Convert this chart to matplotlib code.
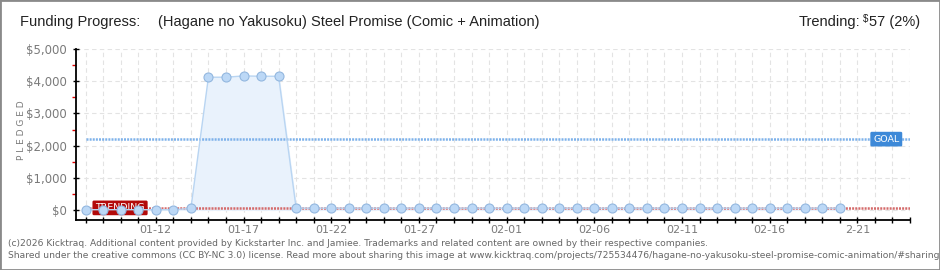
import numpy as np
import matplotlib
matplotlib.use("Agg")
from matplotlib import pyplot as plt
from matplotlib.patches import Rectangle

# daily pledged totals, 01-08 .. 02-20
pledged = [0, 0, 0, 0, 0, 0, 40,
           4130, 4130, 4170, 4160, 4160,
           50, 50, 50, 50, 50, 50, 50, 50, 50, 50, 50, 50,
           50, 50, 50, 50, 50, 50, 50, 50, 50, 50, 50, 50,
           50, 50, 50, 50, 50, 50, 50, 50]
goal = 2200
trend = 57
n_days = 48  # axis runs to 02-24
tick_labels = ["01-12", "01-17", "01-22", "01-27", "02-01", "02-06", "02-11", "02-16", "2-21"]
tick_label_pos = [4, 9, 14, 19, 24, 29, 34, 39, 44]

title_font = ["Liberation Sans", "DejaVu Sans"]

fig = plt.figure(figsize=(9.4, 2.7), dpi=100)
fig.patches.append(Rectangle((0, 0), 1, 1, transform=fig.transFigure, fill=False,
                             edgecolor="#8a8a8a", linewidth=2))

ax = fig.add_axes([76 / 940, 1 - 220.3 / 270, (910 - 76) / 940, (220.3 - 49.3) / 270])
x = np.arange(len(pledged))

ax.fill_between(x, pledged, 0, color="#e9f2fc", zorder=2)
ax.plot(x, pledged, color="#b9d5f2", linewidth=1, zorder=5)

ax.plot([0, n_days - 1], [goal, goal], color="#7eb2ea", linewidth=1.8, dashes=[0.8, 0.45],
        zorder=3)
ax.plot([0, n_days - 1], [trend, trend], color="#d46a6a", linewidth=1.8, dashes=[0.8, 0.45],
        zorder=3)

# labels sit under the data points
ax.text(0.55, trend, "TRENDING", color="white", fontsize=6.8, ha="left", va="center",
        zorder=4, bbox=dict(boxstyle="round,pad=0.3,rounding_size=0.15", fc="#b30a0a", ec="none"))
ax.text(44.9, goal, "GOAL", color="white", fontsize=6.8, ha="left", va="center",
        zorder=4, bbox=dict(boxstyle="round,pad=0.3,rounding_size=0.15", fc="#3d89d8", ec="none"))

ax.plot(x, pledged, linestyle="none", marker="o", markersize=6.5,
        markerfacecolor="#bcd8f6", markeredgecolor="#93b7df", markeredgewidth=0.8, zorder=6)

ax.set_xlim(-0.55, n_days - 1)
ax.set_ylim(-330, 5000)

ax.set_xticks(tick_label_pos)
ax.set_xticklabels(tick_labels)
ax.set_xticks(np.arange(n_days), minor=True)
ax.tick_params(axis="x", which="both", direction="inout", length=5, width=1, color="black")
ax.tick_params(axis="x", which="major", labelsize=8, labelcolor="#7a7a7a", pad=1)

ax.set_yticks(np.arange(0, 5001, 1000))
ax.set_yticklabels(["${:,}".format(v) for v in range(0, 5001, 1000)])
ax.set_yticks(np.arange(500, 5000, 1000), minor=True)
ax.tick_params(axis="y", which="major", direction="inout", length=5, width=1, color="black",
               labelsize=8.5, labelcolor="#7a7a7a", pad=4)
ax.tick_params(axis="y", which="minor", direction="out", length=3, width=1, color="#e00000")

ax.grid(True, axis="x", which="both", color="#e3e3e3", linewidth=0.8, dashes=(4, 3))
ax.grid(True, axis="y", which="major", color="#e3e3e3", linewidth=0.8, dashes=(4, 3))
ax.set_axisbelow(True)
for s in ["top", "right"]:
    ax.spines[s].set_visible(False)
ax.spines["left"].set_color("black")
ax.spines["bottom"].set_color("black")
ax.spines["left"].set_linewidth(1.3)
ax.spines["bottom"].set_linewidth(1.3)

fig.text(22 / 940, 1 - 130 / 270, "P L E D G E D", rotation=90, fontsize=6.5, color="#7a7a7a",
         ha="center", va="center")

fig.text(20 / 940, 1 - 22 / 270, "Funding Progress:", fontsize=10.5, color="#222222",
         family=title_font, ha="left", va="center")
fig.text(158 / 940, 1 - 22 / 270, "(Hagane no Yakusoku) Steel Promise (Comic + Animation)",
         fontsize=10.5, color="#222222", family=title_font, ha="left", va="center")
fig.text(860 / 940, 1 - 22 / 270, "Trending:", fontsize=10.5, color="#222222",
         family=title_font, ha="right", va="center")
fig.text(863 / 940, 1 - 19 / 270, "$", fontsize=7, color="#222222",
         family=title_font, ha="left", va="center")
fig.text(920 / 940, 1 - 22 / 270, "57 (2%)", fontsize=10.5, color="#222222",
         family=title_font, ha="right", va="center")

fig.text(8 / 940, 1 - 243 / 270,
         "(c)2026 Kicktraq. Additional content provided by Kickstarter Inc. and Jamiee. "
         "Trademarks and related content are owned by their respective companies.",
         fontsize=6.6, color="#666666", ha="left", va="center")
fig.text(8 / 940, 1 - 256 / 270,
         "Shared under the creative commons (CC BY-NC 3.0) license. Read more about sharing this image at "
         "www.kicktraq.com/projects/725534476/hagane-no-yakusoku-steel-promise-comic-animation/#sharing",
         fontsize=6.6, color="#666666", ha="left", va="center")

fig.savefig("out.png", dpi=100)
